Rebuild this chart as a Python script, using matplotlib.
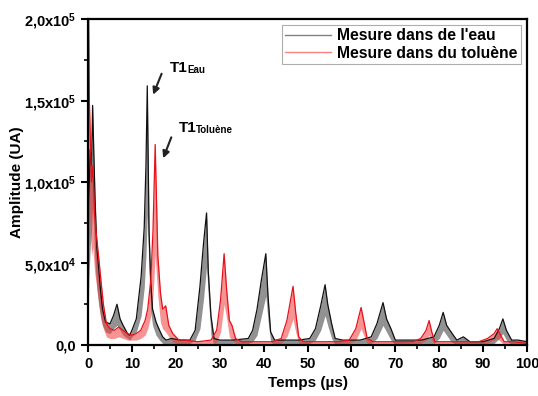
import matplotlib
matplotlib.use("Agg")
import matplotlib.pyplot as plt
from matplotlib.ticker import MultipleLocator, FixedLocator

plt.rcParams["font.family"] = ["Liberation Sans", "DejaVu Sans"]
plt.rcParams["font.weight"] = "bold"
plt.rcParams["mathtext.fontset"] = "custom"
plt.rcParams["mathtext.rm"] = "Liberation Sans:bold"
plt.rcParams["mathtext.default"] = "rm"

# ─── DATA (envelopes, amplitude in units of 1000) ───────────────────────────
t_eau = [0, 0.2, 0.5, 0.8, 1.05, 1.3, 1.6, 2.0, 2.4, 2.8, 3.3, 4.0, 5.0, 5.8, 6.6,
         7.3, 8.0, 9.0, 9.5, 10.0, 11.0, 12.1, 12.8, 13.2, 13.5, 13.9, 14.3, 14.7,
         15.5, 16.3, 17.0, 17.8, 19, 21, 23.2, 24.4, 25.5, 26.3, 27.0, 27.4, 28.0,
         28.7, 30, 33, 36.5, 37.5, 38.5, 39.5, 40.5, 41.0, 41.6, 42.5, 44, 48,
         50.5, 51.8, 53.0, 54.0, 54.6, 55.5, 56.3, 58, 62, 64.5, 65.8, 67.2, 68,
         69, 70, 72, 76, 78.8, 80.0, 80.9, 81.7, 82.7, 84, 85.5, 87, 90, 92.5,
         93.7, 94.5, 95.3, 96.5, 98, 100]
hi_eau = [40, 90, 120, 110, 147, 120, 90, 60, 48, 35, 22, 14, 13, 18, 25,
          16, 12, 7, 6, 9, 16, 42, 72, 110, 159, 70, 38, 22,
          14, 9, 5, 3, 4, 3, 3, 9, 36, 62, 81, 45, 18,
          4, 3, 3, 4, 9, 22, 40, 56, 30, 8, 3, 3, 3,
          4, 10, 24, 37, 25, 13, 4, 3, 3, 5, 13, 26, 16,
          10, 3, 3, 3, 5, 12, 20, 12, 8, 3, 5, 2, 2, 4,
          10, 16, 9, 3, 3, 2]
lo_eau = [10, 40, 60, 70, 85, 70, 50, 35, 25, 18, 12, 8, 7, 10, 12,
          9, 6, 4, 3, 5, 8, 18, 35, 55, 80, 45, 20, 12,
          6, 3, 1, 0, 1, 0, 1, 3, 10, 28, 48, 30, 6,
          0, 0, 1, 1, 2, 6, 18, 30, 15, 2, 0, 1, 0,
          1, 3, 9, 18, 12, 4, 0, 1, 1, 1, 4, 12, 8,
          3, 0, 1, 1, 1, 4, 9, 6, 2, 0, 1, 0, 0, 1,
          4, 7, 3, 0, 1, 0]

t_tol = [0, 0.15, 0.3, 0.5, 0.8, 1.1, 1.5, 2.0, 2.5, 3.0, 3.5, 4.2, 5.0, 6.0, 7.0,
         8.0, 9.0, 10.0, 11.0, 12.0, 13.0, 13.6, 14.3, 14.8, 15.3, 15.9, 16.5,
         17.0, 17.7, 18.4, 19.3, 20.7, 22, 25, 28, 29.3, 30.2, 31.0, 31.6, 32.2,
         32.8, 33.6, 35, 38, 42, 44, 45.3, 46.7, 47.3, 48.0, 49, 52, 57, 59.5, 61,
         62.2, 62.8, 63.6, 65, 70, 74, 75.8, 77, 77.7, 78.3, 79, 82, 86, 89, 91,
         92.5, 93.2, 94, 94.8, 97, 100]
hi_tol = [200, 200, 150, 130, 100, 110, 80, 65, 52, 38, 25, 13, 10, 9, 11,
          9, 7, 6, 7, 9, 15, 22, 40, 70, 123, 55, 32,
          22, 24, 12, 7, 3, 3, 2, 3, 9, 28, 56, 33, 15,
          12, 4, 2, 2, 2, 4, 15, 36, 20, 5, 2, 2, 2, 3, 10,
          23, 15, 4, 2, 2, 2, 4, 9, 15, 8, 2, 2, 2, 2, 4,
          7, 10, 6, 2, 2, 1]
lo_tol = [60, 110, 90, 70, 55, 60, 45, 35, 25, 15, 10, 5, 4, 4, 5,
          4, 3, 3, 3, 4, 6, 10, 18, 30, 55, 30, 14,
          10, 8, 5, 2, 0, 1, 0, 0, 2, 8, 25, 16, 5,
          3, 1, 0, 0, 0, 1, 5, 16, 8, 1, 0, 0, 0, 1, 3,
          10, 6, 1, 0, 0, 0, 1, 3, 6, 3, 0, 0, 0, 0, 1,
          3, 4, 2, 0, 0, 0]

labels = ["Mesure dans de l'eau", "Mesure dans du toluène"]
y_ticks = [0, 50000, 100000, 150000, 200000]
y_tick_labels = ["0,0", "5,0x10$^{4}$", "1,0x10$^{5}$", "1,5x10$^{5}$", "2,0x10$^{5}$"]

# ─── PLOT ───────────────────────────────────────────────────────────────────
fig = plt.figure(figsize=(5.38, 3.96), dpi=100)
ax = fig.add_axes([0.1636, 0.1288, 0.816, 0.8232])

k = 1000
ax.fill_between(t_eau, [v * k for v in lo_eau], [v * k for v in hi_eau],
                color="#4a4a4a", alpha=0.6, lw=0)
ax.plot(t_eau, [v * k for v in hi_eau], color="#111111", lw=0.9)

ax.fill_between(t_tol, [v * k for v in lo_tol], [v * k for v in hi_tol],
                color="#f03a3a", alpha=0.55, lw=0)
ax.plot(t_tol, [v * k for v in hi_tol], color="#e8101a", lw=0.9)

# legend proxies
h1, = ax.plot([], [], color="#808080", lw=1)
h2, = ax.plot([], [], color="#ff8080", lw=1)
leg = ax.legend([h1, h2], labels, loc="upper right", fancybox=False, frameon=True,
                prop={"weight": "bold", "size": 11.3}, handlelength=2.9,
                borderpad=0.2, labelspacing=0.15, handletextpad=0.4,
                borderaxespad=0.4)
leg.get_frame().set_edgecolor("#999999")
leg.get_frame().set_linewidth(0.8)

ax.set_xlim(0, 100)
ax.set_ylim(0, 200000)
ax.xaxis.set_major_locator(MultipleLocator(10))
ax.xaxis.set_minor_locator(MultipleLocator(5))
ax.yaxis.set_major_locator(FixedLocator(y_ticks))
ax.yaxis.set_minor_locator(MultipleLocator(25000))
ax.set_yticklabels(y_tick_labels)

ax.tick_params(which="major", direction="out", length=5, width=1.5,
               labelsize=10.5, top=False, right=False)
ax.tick_params(which="minor", direction="out", length=3, width=1.2,
               top=False, right=False)
for lab in ax.get_xticklabels() + ax.get_yticklabels():
    lab.set_fontweight("bold")
for s in ax.spines.values():
    s.set_linewidth(1.6)

ax.set_xlabel("Temps (µs)", fontsize=11, fontweight="bold", labelpad=4)
ax.set_ylabel("Amplitude (UA)", fontsize=11, fontweight="bold")
ax.yaxis.set_label_coords(-0.146, 0.5)

# annotations
ax.annotate("", xy=(14.6, 152000), xytext=(17.0, 168000),
            arrowprops=dict(arrowstyle="-|>", color="#222222", lw=1.5,
                            mutation_scale=10))
ax.text(18.7, 170000, "T1", fontsize=11, fontweight="bold", va="center")
ax.text(22.6, 169000, "Eau", fontsize=7, fontweight="bold", va="center")
ax.annotate("", xy=(16.9, 113000), xytext=(19.2, 129000),
            arrowprops=dict(arrowstyle="-|>", color="#222222", lw=1.5,
                            mutation_scale=10))
ax.text(20.7, 133000, "T1", fontsize=11, fontweight="bold", va="center")
ax.text(24.6, 132000, "Toluène", fontsize=7, fontweight="bold", va="center")

plt.savefig("out.png", dpi=100)
